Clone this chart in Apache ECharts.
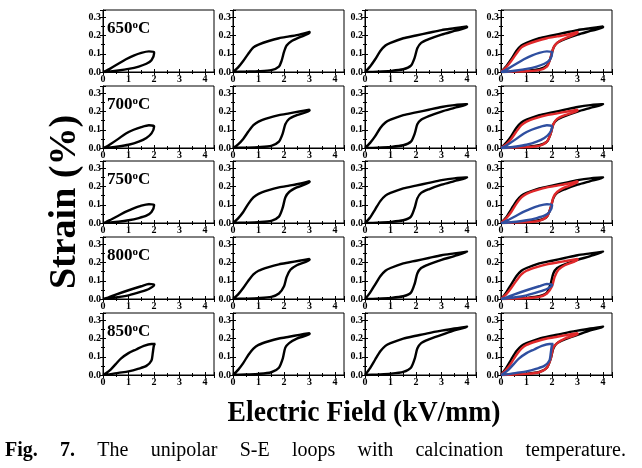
<!DOCTYPE html>
<html><head><meta charset="utf-8">
<script src="https://cdn.jsdelivr.net/npm/echarts@6/dist/echarts.min.js"></script>
<style>html,body{margin:0;padding:0;background:#fff}#c{width:642px;height:468px}</style>
</head><body><div id="c"></div>
<script>
// ---- data (E in kV/mm, Strain in %) ----
const temps = ['650', '700', '750', '800', '850'];
const xTicks = [0, 1, 2, 3, 4];
const yTicks = [0.0, 0.1, 0.2, 0.3];

const T650_E2 = [[0,0],[0.3,0.003],[0.6,0.008],[1.0,0.017],[1.4,0.03],[1.7,0.045],[1.9,0.065],[2.0,0.1],[2.0,0.11],[1.8,0.113],[1.5,0.105],[1.2,0.09],[0.9,0.07],[0.6,0.045],[0.3,0.02],[0.1,0.005],[0,0]];
const T650_E3 = [[0,0],[0.5,0.002],[1.0,0.004],[1.5,0.01],[1.8,0.03],[1.9,0.06],[2.0,0.11],[2.1,0.145],[2.3,0.17],[2.6,0.19],[3.0,0.215],[3.0,0.22],[2.6,0.205],[2.2,0.195],[1.8,0.185],[1.4,0.17],[1.0,0.15],[0.8,0.135],[0.6,0.1],[0.4,0.06],[0.2,0.025],[0,0]];
const T650_E4 = [[0,0],[0.5,0.002],[1.0,0.006],[1.5,0.015],[1.8,0.035],[1.95,0.08],[2.05,0.13],[2.2,0.16],[2.5,0.18],[3.0,0.205],[3.5,0.225],[4.0,0.245],[4.0,0.25],[3.5,0.24],[3.0,0.23],[2.5,0.215],[2.0,0.2],[1.5,0.185],[1.0,0.16],[0.8,0.145],[0.6,0.115],[0.4,0.07],[0.2,0.03],[0,0]];

const T700_E2 = [[0,0],[0.3,0.003],[0.6,0.008],[1.0,0.018],[1.4,0.035],[1.7,0.055],[1.9,0.08],[2.0,0.115],[2.0,0.12],[1.8,0.125],[1.5,0.115],[1.2,0.1],[0.9,0.08],[0.6,0.05],[0.3,0.022],[0.1,0.005],[0,0]];
const T700_E3 = [[0,0],[0.5,0.002],[1.0,0.005],[1.5,0.012],[1.8,0.035],[1.95,0.08],[2.05,0.13],[2.2,0.16],[2.5,0.18],[3.0,0.205],[3.0,0.21],[2.6,0.2],[2.2,0.19],[1.8,0.18],[1.4,0.165],[1.0,0.145],[0.8,0.125],[0.6,0.09],[0.4,0.05],[0.2,0.02],[0,0]];
const T700_E4 = [[0,0],[0.5,0.002],[1.0,0.006],[1.5,0.015],[1.8,0.035],[1.95,0.08],[2.05,0.13],[2.2,0.155],[2.5,0.175],[3.0,0.2],[3.5,0.22],[4.0,0.24],[4.0,0.243],[3.5,0.235],[3.0,0.225],[2.5,0.21],[2.0,0.195],[1.5,0.18],[1.0,0.155],[0.8,0.14],[0.6,0.11],[0.4,0.065],[0.2,0.028],[0,0]];

const T750_E2 = [[0,0],[0.3,0.003],[0.6,0.007],[1.0,0.015],[1.4,0.027],[1.7,0.04],[1.9,0.06],[2.0,0.095],[2.0,0.1],[1.8,0.103],[1.5,0.095],[1.2,0.08],[0.9,0.062],[0.6,0.04],[0.3,0.018],[0.1,0.004],[0,0]];
const T750_E3 = [[0,0],[0.5,0.002],[1.0,0.005],[1.5,0.012],[1.8,0.035],[1.95,0.085],[2.05,0.14],[2.2,0.17],[2.5,0.195],[3.0,0.225],[3.0,0.23],[2.6,0.215],[2.2,0.205],[1.8,0.195],[1.4,0.18],[1.0,0.16],[0.8,0.14],[0.6,0.105],[0.4,0.06],[0.2,0.025],[0,0]];
const T750_E4 = [[0,0],[0.5,0.002],[1.0,0.006],[1.5,0.015],[1.8,0.035],[1.95,0.085],[2.05,0.135],[2.2,0.165],[2.5,0.185],[3.0,0.21],[3.5,0.23],[4.0,0.25],[4.0,0.253],[3.5,0.245],[3.0,0.235],[2.5,0.22],[2.0,0.205],[1.5,0.19],[1.0,0.165],[0.8,0.15],[0.6,0.12],[0.4,0.075],[0.2,0.03],[0,0]];

const T800_E2 = [[0,0],[0.5,0.008],[1.0,0.02],[1.5,0.04],[1.8,0.055],[2.0,0.075],[2.0,0.08],[1.8,0.082],[1.5,0.07],[1.0,0.048],[0.5,0.024],[0.2,0.008],[0,0]];
const T800_E3 = [[0,0],[0.5,0.002],[1.0,0.005],[1.5,0.012],[1.8,0.03],[2.0,0.07],[2.1,0.12],[2.25,0.16],[2.5,0.185],[3.0,0.215],[3.0,0.22],[2.6,0.21],[2.2,0.2],[1.8,0.19],[1.4,0.175],[1.0,0.155],[0.8,0.135],[0.6,0.1],[0.4,0.06],[0.2,0.025],[0,0]];
const T800_E4 = [[0,0],[0.5,0.002],[1.0,0.006],[1.5,0.015],[1.8,0.035],[1.95,0.085],[2.05,0.14],[2.2,0.17],[2.5,0.19],[3.0,0.215],[3.5,0.235],[4.0,0.26],[4.0,0.262],[3.5,0.25],[3.0,0.24],[2.5,0.225],[2.0,0.21],[1.5,0.195],[1.0,0.17],[0.8,0.155],[0.6,0.125],[0.4,0.08],[0.2,0.035],[0,0]];

const T850_E2 = [[0,0],[0.3,0.005],[0.6,0.012],[1.0,0.02],[1.4,0.035],[1.7,0.05],[1.9,0.08],[1.95,0.12],[2.0,0.165],[2.05,0.17],[1.9,0.17],[1.6,0.16],[1.3,0.14],[1.0,0.12],[0.7,0.09],[0.5,0.06],[0.3,0.03],[0.1,0.008],[0,0]];
const T850_E3 = [[0,0],[0.5,0.003],[1.0,0.006],[1.5,0.015],[1.8,0.04],[1.95,0.09],[2.05,0.15],[2.2,0.175],[2.5,0.2],[3.0,0.225],[3.0,0.23],[2.6,0.22],[2.2,0.21],[1.8,0.2],[1.4,0.185],[1.0,0.165],[0.8,0.145],[0.6,0.11],[0.4,0.065],[0.2,0.028],[0,0]];
const T850_E4 = [[0,0],[0.5,0.003],[1.0,0.007],[1.5,0.017],[1.8,0.04],[1.95,0.09],[2.05,0.145],[2.2,0.175],[2.5,0.195],[3.0,0.22],[3.5,0.245],[4.0,0.265],[4.0,0.268],[3.5,0.255],[3.0,0.243],[2.5,0.23],[2.0,0.215],[1.5,0.2],[1.0,0.175],[0.8,0.16],[0.6,0.13],[0.4,0.085],[0.2,0.038],[0,0]];

const loops = [
  [T650_E2, T650_E3, T650_E4],
  [T700_E2, T700_E3, T700_E4],
  [T750_E2, T750_E3, T750_E4],
  [T800_E2, T800_E3, T800_E4],
  [T850_E2, T850_E3, T850_E4]
];

// ---- layout ----
const colLeft = [103, 233, 365, 501];
const rowTop = [10, 86, 161, 237, 313];
const cellW = 111, cellH = 62;
const FONT = '"Liberation Serif", "Times New Roman", serif';
const overlayColors = ['#2f4fa0', '#e0282a', '#000000'];

const grids = [], xAxes = [], yAxes = [], series = [];
const extraX = [], extraY = [];
const labStyle = {fontFamily: FONT, fontWeight: 'bold', fontSize: 10, color: '#000'};
const tickCfg = {show: true, inside: true, length: 3, lineStyle: {color: '#000'}};
const minorCfg = {show: true, splitNumber: 2, length: 2, lineStyle: {color: '#000'}};
for (let r = 0; r < 5; r++) {
  for (let c = 0; c < 4; c++) {
    const gi = r * 4 + c;
    grids.push({left: colLeft[c], top: rowTop[r], width: cellW, height: cellH,
      show: true, borderColor: '#000', borderWidth: 1, backgroundColor: 'transparent'});
    xAxes.push({gridIndex: gi, type: 'value', min: 0, max: 4.35, interval: 1,
      axisLine: {show: true, onZero: false, lineStyle: {color: '#000', width: 1}},
      axisTick: tickCfg, minorTick: minorCfg, splitLine: {show: false},
      axisLabel: Object.assign({margin: 2, showMaxLabel: false,
        formatter: v => xTicks.indexOf(v) >= 0 ? String(v) : ''}, labStyle)});
    yAxes.push({gridIndex: gi, type: 'value', min: 0, max: 0.34, interval: 0.1,
      axisLine: {show: true, onZero: false, lineStyle: {color: '#000', width: 1}},
      axisTick: tickCfg, minorTick: minorCfg, splitLine: {show: false},
      axisLabel: Object.assign({margin: 2, showMaxLabel: false,
        formatter: v => { const k = yTicks.findIndex(t => Math.abs(t - v) < 1e-6); return k >= 0 ? yTicks[k].toFixed(1) : ''; }}, labStyle)});
    extraX.push({gridIndex: gi, type: 'value', position: 'top', min: 0, max: 4.35, interval: 1,
      axisLine: {show: false}, axisTick: tickCfg, minorTick: minorCfg, splitLine: {show: false}, axisLabel: {show: false}});
    extraY.push({gridIndex: gi, type: 'value', position: 'right', min: 0, max: 0.34, interval: 0.1,
      axisLine: {show: false}, axisTick: tickCfg, minorTick: minorCfg, splitLine: {show: false}, axisLabel: {show: false}});
    const mk = (data, color) => ({type: 'line', xAxisIndex: gi, yAxisIndex: gi, data: data,
      showSymbol: false, smooth: 0.25, silent: true, animation: false,
      lineStyle: {color: color, width: 2.4}});
    if (c < 3) {
      series.push(mk(loops[r][c], '#000'));
    } else {
      series.push(mk(loops[r][2], overlayColors[2]));
      series.push(mk(loops[r][1], overlayColors[1]));
      series.push(mk(loops[r][0], overlayColors[0]));
    }
  }
}

// ---- texts ----
const graphics = [];
temps.forEach((t, r) => {
  graphics.push({type: 'text', left: colLeft[0] + 4, top: rowTop[r] + 10, silent: true,
    style: {text: '{n|' + t + '}{s|o}{n|C}', font: 'bold 17px ' + FONT, fill: '#000',
      rich: {n: {fontFamily: FONT, fontWeight: 'bold', fontSize: 17, lineHeight: 17, fill: '#000'},
             s: {fontFamily: FONT, fontWeight: 'bold', fontSize: 11, lineHeight: 11, verticalAlign: 'top', fill: '#000'}}}});
});
graphics.push({type: 'text', x: 65, y: 202, rotation: Math.PI / 2, silent: true,
  style: {text: 'Strain (%)', font: 'bold 38px ' + FONT, fill: '#000', textAlign: 'center', textVerticalAlign: 'middle'}});
graphics.push({type: 'text', x: 364, y: 413, scaleX: 0.92, silent: true,
  style: {text: 'Electric Field (kV/mm)', font: 'bold 30px ' + FONT, fill: '#000', textAlign: 'center', textVerticalAlign: 'middle'}});

// justified caption
const capWords = [['Fig.', true], ['7.', true], ['The', false], ['unipolar', false], ['S-E', false], ['loops', false], ['with', false], ['calcination', false], ['temperature.', false]];
const capSize = 20, capLeft = 5, capRight = 626, capY = 451;
const ctx = document.createElement('canvas').getContext('2d');
const widths = capWords.map(([w, b]) => { ctx.font = (b ? 'bold ' : '') + capSize + 'px ' + FONT; return ctx.measureText(w).width; });
const total = widths.reduce((a, b) => a + b, 0);
const gap = (capRight - capLeft - total) / (capWords.length - 1);
let cx = capLeft;
capWords.forEach(([w, b], i) => {
  graphics.push({type: 'text', x: cx, y: capY, silent: true,
    style: {text: w, font: (b ? 'bold ' : '') + capSize + 'px ' + FONT, fill: '#000', textAlign: 'left', textVerticalAlign: 'middle'}});
  cx += widths[i] + gap;
});

const chart = echarts.init(document.getElementById('c'), null, {renderer: 'canvas'});
chart.setOption({animation: false, backgroundColor: '#fff', grid: grids,
  xAxis: xAxes.concat(extraX), yAxis: yAxes.concat(extraY), series: series, graphic: graphics});
</script></body></html>
